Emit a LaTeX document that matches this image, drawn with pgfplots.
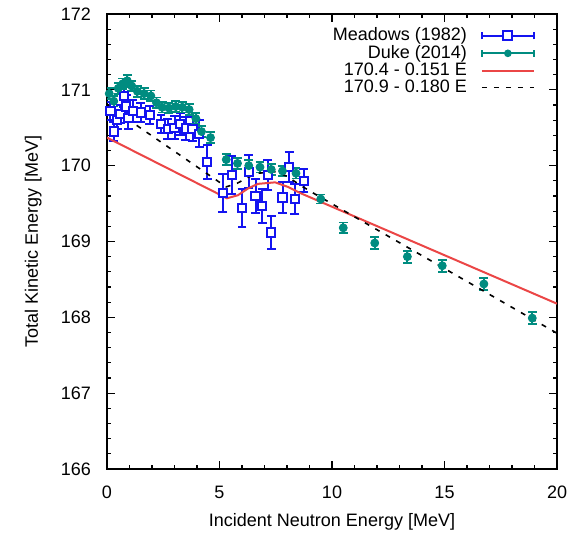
\documentclass[border=0pt]{standalone}
\usepackage{fontspec}
\setmainfont{Liberation Sans}
\usepackage{pgfplots}
\usepackage{pgfplotstable}
\pgfplotsset{compat=1.18}
\definecolor{mblue}{RGB}{20,20,240}
\definecolor{dteal}{RGB}{0,140,128}
\definecolor{fred}{RGB}{235,70,70}

\pgfplotstableread{
x y e
0.15 170.72 0.12
0.30 170.45 0.12
0.45 170.60 0.12
0.60 170.68 0.12
0.75 170.92 0.15
0.85 170.78 0.15
0.95 170.63 0.15
1.15 170.72 0.15
1.50 170.70 0.12
1.90 170.67 0.12
2.40 170.55 0.12
2.70 170.48 0.13
3.00 170.50 0.15
3.25 170.55 0.15
3.50 170.49 0.15
3.80 170.48 0.16
4.10 170.42 0.18
4.45 170.05 0.22
5.15 169.64 0.25
5.55 169.88 0.25
6.00 169.44 0.25
6.30 169.92 0.22
6.60 169.60 0.22
6.90 169.47 0.22
7.15 169.88 0.20
7.30 169.12 0.22
7.80 169.58 0.20
8.10 169.98 0.20
8.35 169.56 0.20
8.75 169.80 0.15
}\meadows

\pgfplotstableread{
x y e
0.10 170.95 0.07
0.30 170.85 0.07
0.50 171.02 0.07
0.70 171.08 0.07
0.90 171.12 0.08
1.10 171.05 0.07
1.35 170.98 0.07
1.65 170.95 0.07
1.95 170.92 0.07
2.20 170.83 0.07
2.45 170.77 0.07
2.75 170.76 0.07
3.05 170.78 0.07
3.35 170.77 0.07
3.65 170.74 0.07
3.95 170.62 0.07
4.20 170.45 0.07
4.60 170.37 0.07
5.30 170.08 0.07
5.80 170.03 0.07
6.30 170.00 0.07
6.80 169.98 0.07
7.30 169.95 0.07
7.80 169.93 0.07
8.40 169.90 0.07
9.50 169.56 0.06
10.50 169.18 0.07
11.90 168.98 0.08
13.35 168.80 0.08
14.90 168.68 0.08
16.75 168.44 0.08
18.90 167.99 0.08
}\duke

\begin{document}
\begin{tikzpicture}[font=\fontsize{9}{10.8}\selectfont]
\begin{axis}[
  scale only axis, width=225pt, height=227.5pt,
  xmin=0, xmax=20, ymin=166, ymax=172,
  xtick={0,5,10,15,20}, ytick={166,167,...,172},
  minor x tick num=4, minor y tick num=4,
  tick align=inside, tick pos=both,
  xticklabel pos=lower, yticklabel pos=left,
  major tick length=4pt, minor tick length=2.2pt,
  axis line style={line width=0.9pt},
  every tick/.style={black, line width=0.6pt},
  /pgf/number format/assume math mode=true,
  xticklabel style={yshift=-5pt},
  yticklabel style={xshift=-4.5pt},
  xlabel={Incident Neutron Energy [MeV]},
  ylabel={Total Kinetic Energy [MeV]},
  xlabel style={at={(axis description cs:0.5,-0.1165)}, anchor=center},
  ylabel style={at={(axis description cs:-0.164,0.5)}, anchor=center},
  legend style={draw=none, fill=none, at={(rel axis cs:0.965,0.988)}, anchor=north east,
    legend cell align=right, row sep=-3.3pt, column sep=5pt},
  legend plot pos=right,
  legend image code/.code={\draw[#1] (0pt,0pt)--(26pt,0pt);},
]
\coordinate (ll) at (rel axis cs:0,0);
\coordinate (ur) at (rel axis cs:1,1);

% Meadows: error bars
\addplot[mblue, draw=mblue, only marks, mark=none, forget plot,
  error bars/.cd, y dir=both, y explicit,
  error bar style={line width=1pt, mblue},
  error mark options={rotate=90, mark size=2.2pt, mblue, line width=1pt}]
  table[x=x, y=y, y error=e] {\meadows};
% Meadows: marks
\addplot[mblue, only marks, mark=square*, mark size=2.1pt,
  mark options={mblue, fill=white, solid, line width=1pt},
  /pgfplots/legend image code/.code={
    \draw[draw=mblue, line width=1pt] (0pt,0pt)--(10.8pt,0pt) (15.2pt,0pt)--(26pt,0pt)
      (0pt,-1.8pt)--(0pt,1.8pt) (26pt,-1.8pt)--(26pt,1.8pt);
    \filldraw[draw=mblue, fill=white, line width=1pt] (10.8pt,-2.2pt) rectangle (15.2pt,2.2pt);
  }]
  table[x=x, y=y] {\meadows};
\addlegendentry{Meadows (1982)}

% Duke: error bars
\addplot[dteal, draw=dteal, only marks, mark=none, forget plot,
  error bars/.cd, y dir=both, y explicit,
  error bar style={line width=0.9pt, dteal},
  error mark options={rotate=90, mark size=2.2pt, dteal, line width=0.9pt}]
  table[x=x, y=y, y error=e] {\duke};
\addplot[dteal, only marks, mark=*, mark size=1.7pt,
  mark options={dteal, fill=dteal, solid},
  /pgfplots/legend image code/.code={
    \draw[draw=dteal, line width=0.9pt] (0pt,0pt)--(26pt,0pt)
      (0pt,-1.8pt)--(0pt,1.8pt) (26pt,-1.8pt)--(26pt,1.8pt);
    \fill[fill=dteal] (13pt,0pt) circle[radius=1.7pt];
  }]
  table[x=x, y=y] {\duke};
\addlegendentry{Duke (2014)}

\addplot[fred, line width=1pt, mark=none] coordinates {
(0,170.37) (5.33,169.57) (5.82,169.61) (6.27,169.70) (6.71,169.76) (7.47,169.78)
(8.04,169.72) (8.58,169.64) (20,168.18)};
\addlegendentry{170.4 - 0.151 E}

\addplot[black, line width=0.8pt, mark=none, dash pattern=on 2.5pt off 3.5pt] coordinates {
(0,170.80) (5.30,169.72) (5.80,169.77) (6.30,169.85) (6.70,169.90) (7.50,169.92)
(8.00,169.86) (8.60,169.74) (9.16,169.64) (20,167.79)};
\addlegendentry{170.9 - 0.180 E}
\end{axis}
\path ([shift={(-53.5pt,-29.5pt)}]ll) rectangle ([shift={(12.5pt,7pt)}]ur);
\end{tikzpicture}
\end{document}
